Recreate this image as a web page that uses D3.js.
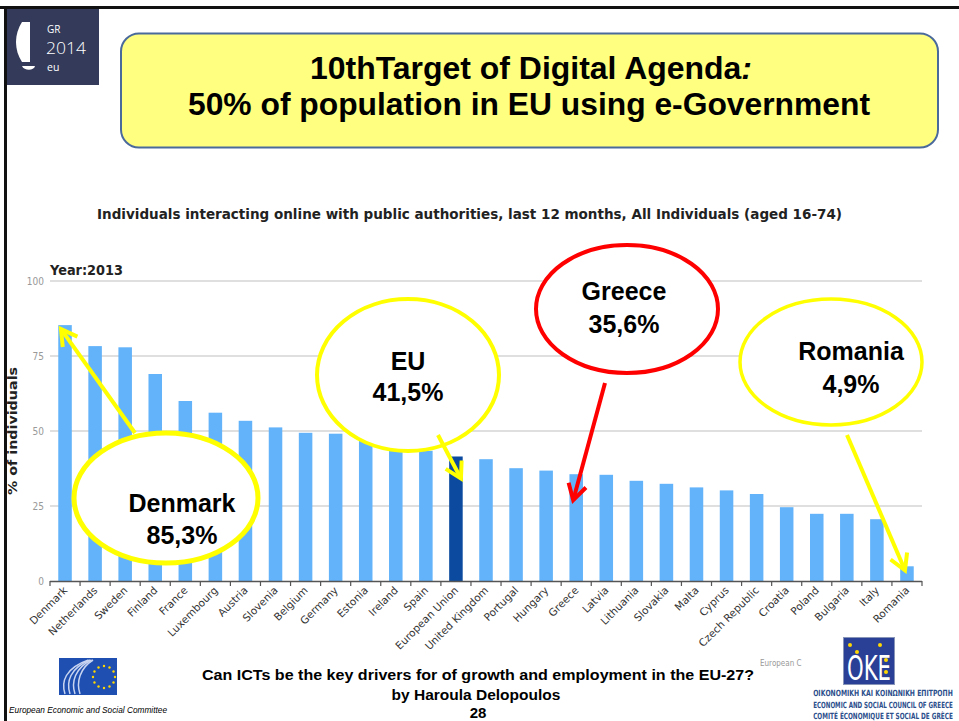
<!DOCTYPE html>
<html><head><meta charset="utf-8">
<script src="https://cdn.jsdelivr.net/npm/d3@7/dist/d3.min.js"></script>
<style>body{margin:0;background:#fff}svg{display:block}</style>
</head><body>
<svg id="c" width="959" height="721"></svg>
<script>
const countries = ["Denmark","Netherlands","Sweden","Finland","France","Luxembourg","Austria","Slovenia","Belgium","Germany","Estonia","Ireland","Spain","European Union","United Kingdom","Portugal","Hungary","Greece","Latvia","Lithuania","Slovakia","Malta","Cyprus","Czech Republic","Croatia","Poland","Bulgaria","Italy","Romania"];
const values = [85.3,78.3,77.9,69.0,60.0,56.1,53.4,51.2,49.4,49.1,47.9,45.0,43.4,41.5,40.6,37.6,36.8,35.6,35.4,33.4,32.4,31.2,30.2,29.0,24.6,22.4,22.4,20.6,4.9];
const yTicks = [0,25,50,75,100];
const highlight = "European Union";
const callouts = [
  {country:"Denmark", lines:["Denmark","85,3%"], color:"#ffff00"},
  {country:"European Union", lines:["EU","41,5%"], color:"#ffff00"},
  {country:"Greece", lines:["Greece","35,6%"], color:"#ff0000"},
  {country:"Romania", lines:["Romania","4,9%"], color:"#ffff00"}
];
const titleLines = ["10thTarget of Digital Agenda", "50% of population in EU using e-Government"];
const chartTitle = "Individuals interacting online with public authorities, last 12 months, All Individuals (aged 16-74)";
const yearLabel = "Year:2013";
const yAxisLabel = "% of individuals";
const footerLines = ["Can ICTs be the key drivers for of growth and employment  in the EU-27?","by Haroula Delopoulos","28"];
const okeLines = ["ΟΙΚΟΝΟΜΙΚΗ ΚΑΙ ΚΟΙΝΩΝΙΚΗ ΕΠΙΤΡΟΠΗ","ECONOMIC AND SOCIAL COUNCIL OF GREECE","COMITÉ ÉCONOMIQUE ET SOCIAL DE GRÈCE"];

const svg = d3.select("#c");
const data = countries.map((c,i)=>({c, v:values[i]}));

// Slide frame
svg.append("rect").attr("x",0).attr("y",0).attr("width",959).attr("height",721).attr("fill","#fff");
svg.append("line").attr("x1",0).attr("x2",959).attr("y1",7.5).attr("y2",7.5).attr("stroke","#111").attr("stroke-width",3);
svg.append("line").attr("x1",5.5).attr("x2",5.5).attr("y1",7).attr("y2",721).attr("stroke","#111").attr("stroke-width",3);

// GR2014 logo
const lg = svg.append("g");
lg.append("rect").attr("x",7).attr("y",9).attr("width",92).attr("height",76).attr("fill","#333a5a");
lg.append("path").attr("d","M22,22 C14,34 14,50 22,62 L30,62 L30,22 Z").attr("fill","#fff");
lg.append("path").attr("d","M22,66 L35,66 C34,71 24,71 22,66 Z").attr("fill","#fff");
lg.append("text").attr("x",47).attr("y",33).text("GR").attr("fill","#fff").attr("font-family","Open Sans, sans-serif").attr("font-size",10);
lg.append("text").attr("x",46).attr("y",54).text("2014").attr("fill","#fff").attr("font-family","Open Sans, sans-serif").attr("font-size",16).attr("font-weight",300).attr("textLength",40).attr("lengthAdjust","spacingAndGlyphs");
lg.append("text").attr("x",47).attr("y",71).text("eu").attr("fill","#fff").attr("font-family","Open Sans, sans-serif").attr("font-size",10.5);

// Title box
svg.append("rect").attr("x",121).attr("y",33.5).attr("width",817).attr("height",114).attr("rx",18)
  .attr("fill","#ffff80").attr("stroke","#4a6a9c").attr("stroke-width",2);
const t1 = svg.append("text").attr("x",310).attr("y",79)
  .attr("font-family","Liberation Sans, Arial, sans-serif").attr("font-weight","bold").attr("font-size",30.5)
  .attr("textLength",442).attr("lengthAdjust","spacingAndGlyphs");
t1.append("tspan").text(titleLines[0]);
t1.append("tspan").attr("font-style","italic").text(":");
svg.append("text").attr("x",529).attr("y",115).attr("text-anchor","middle")
  .attr("font-family","Liberation Sans, Arial, sans-serif").attr("font-weight","bold").attr("font-size",30.5)
  .attr("textLength",682).attr("lengthAdjust","spacingAndGlyphs")
  .text(titleLines[1]);

// Chart title
svg.append("text").attr("x",97).attr("y",219).attr("font-family","DejaVu Sans, sans-serif").attr("font-weight","bold")
  .attr("font-size",13.5).attr("fill","#222").attr("textLength",745).attr("lengthAdjust","spacingAndGlyphs").text(chartTitle);
svg.append("text").attr("x",50).attr("y",275).attr("font-family","DejaVu Sans, sans-serif").attr("font-weight","bold")
  .attr("font-size",13.5).attr("fill","#222").attr("textLength",73).attr("lengthAdjust","spacingAndGlyphs").text(yearLabel);

// Scales
const x = d3.scaleBand().domain(countries).range([50,922]).paddingInner(0.55).paddingOuter(0.275);
const y = d3.scaleLinear().domain([0,100]).range([581,281]);

// Gridlines
svg.append("g").selectAll("line").data(yTicks.filter(d=>d>0)).join("line")
  .attr("x1",50).attr("x2",922).attr("y1",d=>y(d)).attr("y2",d=>y(d)).attr("stroke","#d4d4d4").attr("stroke-width",1.5);

// Y tick labels
svg.append("g").selectAll("text").data(yTicks).join("text")
  .attr("x",44).attr("y",d=>y(d)+4).attr("text-anchor","end").attr("font-family","DejaVu Sans Condensed, DejaVu Sans, sans-serif")
  .attr("font-size",10).attr("fill","#999").text(d=>d);

// Y axis label
svg.append("text").attr("transform","translate(17,431) rotate(-90)").attr("text-anchor","middle")
  .attr("font-family","DejaVu Sans, sans-serif").attr("font-weight","bold").attr("font-size",12.5)
  .attr("fill","#222").attr("textLength",128).attr("lengthAdjust","spacingAndGlyphs").text(yAxisLabel);

// Bars
svg.append("g").selectAll("rect").data(data).join("rect")
  .attr("x",d=>x(d.c)).attr("width",x.bandwidth()).attr("y",d=>y(d.v)).attr("height",d=>y(0)-y(d.v))
  .attr("fill",d=>d.c===highlight?"#0b4a9e":"#63b3fa");

// X axis line and ticks at band edges
const edge = i => x.range()[0] + i*x.step();
svg.append("line").attr("x1",50).attr("x2",922).attr("y1",y(0)+0.5).attr("y2",y(0)+0.5).attr("stroke","#555").attr("stroke-width",1.5);
svg.append("g").selectAll("line").data(d3.range(countries.length+1)).join("line")
  .attr("x1",edge).attr("x2",edge).attr("y1",y(0)).attr("y2",y(0)+5).attr("stroke","#555").attr("stroke-width",1.2);

// X labels
svg.append("g").selectAll("text").data(countries).join("text")
  .attr("transform",d=>`translate(${x(d)+x.bandwidth()/2+3},${y(0)+10}) rotate(-45)`)
  .attr("text-anchor","end").attr("font-family","DejaVu Sans, sans-serif").attr("font-size",10.5).attr("fill","#333").text(d=>d);

// Small watermark text
svg.append("text").attr("x",760).attr("y",666).attr("font-family","DejaVu Sans Condensed, sans-serif").attr("font-size",8).attr("fill","#999").text("European C");

// Callouts: ellipse layout + arrow (arrow tip anchored to bar via scales)
const layout = {
  "Denmark":        {cx:166, cy:498, rx:92, ry:65, sw:5,   tx:182, ty:[512,544], tail:[135,433], tip:[-4,4]},
  "European Union": {cx:408, cy:375, rx:91, ry:76, sw:4,   tx:408, ty:[370,401], tail:[438,435], tip:[5,22]},
  "Greece":         {cx:627, cy:309, rx:91, ry:64, sw:4,   tx:624, ty:[300,333], tail:[605,383], tip:[-3,26]},
  "Romania":        {cx:831, cy:362, rx:91, ry:63, sw:3.5, tx:851, ty:[360,393], tail:[847,435], tip:[-2,4]}
};
const dmap = new Map(data.map(d=>[d.c,d.v]));
const ag = svg.append("g");
callouts.forEach(co=>{
  const L = layout[co.country];
  ag.append("ellipse").attr("cx",L.cx).attr("cy",L.cy).attr("rx",L.rx).attr("ry",L.ry)
    .attr("fill","#fff").attr("stroke",co.color).attr("stroke-width",L.sw);
  co.lines.forEach((s,i)=>{
    ag.append("text").attr("x",L.tx).attr("y",L.ty[i]).attr("text-anchor","middle")
      .attr("font-family","Liberation Sans, Arial, sans-serif").attr("font-weight","bold").attr("font-size",25).attr("fill","#000").text(s);
  });
});
callouts.forEach(co=>{
  const L = layout[co.country];
  const tx = x(co.country)+x.bandwidth()/2 + L.tip[0];
  const ty = y(dmap.get(co.country)) + L.tip[1];
  const [sx,sy] = L.tail;
  const ang = Math.atan2(ty-sy, tx-sx);
  const hl = 18, ha = Math.PI/6;
  const p1 = [tx - hl*Math.cos(ang-ha), ty - hl*Math.sin(ang-ha)];
  const p2 = [tx - hl*Math.cos(ang+ha), ty - hl*Math.sin(ang+ha)];
  ag.append("line").attr("x1",sx).attr("y1",sy).attr("x2",tx).attr("y2",ty).attr("stroke",co.color).attr("stroke-width",4);
  ag.append("path").attr("d",`M${p1[0]},${p1[1]} L${tx},${ty} L${p2[0]},${p2[1]}`).attr("fill","none")
    .attr("stroke",co.color).attr("stroke-width",4).attr("stroke-linejoin","miter");
});

// Footer
const ff = "Liberation Sans, Arial, sans-serif";
svg.append("text").attr("x",478).attr("y",680).attr("text-anchor","middle").attr("font-family",ff).attr("font-weight","bold").attr("font-size",15.5)
  .attr("textLength",552).attr("lengthAdjust","spacingAndGlyphs").text(footerLines[0]);
svg.append("text").attr("x",476).attr("y",700).attr("text-anchor","middle").attr("font-family",ff).attr("font-weight","bold").attr("font-size",15.5).text(footerLines[1]);
svg.append("text").attr("x",478).attr("y",718).attr("text-anchor","middle").attr("font-family",ff).attr("font-weight","bold").attr("font-size",15).text(footerLines[2]);

// EESC logo
const eg = svg.append("g");
eg.append("rect").attr("x",59).attr("y",658).attr("width",58).attr("height",37).attr("fill","#1f4fb0");
[0,5,10,15].forEach(o=>{
  eg.append("path").attr("d",`M${93-o*0.3},${660} C${80-o},${668} ${76-o},${682} ${80-o},${694}`).attr("fill","none").attr("stroke","#c8d4f0").attr("stroke-width",1.5);
});
d3.range(12).forEach(i=>{
  const a = i*Math.PI/6;
  eg.append("circle").attr("cx",104+11*Math.cos(a)).attr("cy",677+11*Math.sin(a)).attr("r",1.2).attr("fill","#ffd700");
});
svg.append("text").attr("x",9).attr("y",713).attr("font-family",ff).attr("font-style","italic").attr("font-size",8.5)
  .attr("textLength",158).attr("lengthAdjust","spacingAndGlyphs").text("European Economic and Social Committee");

// OKE logo
const og = svg.append("g");
og.append("rect").attr("x",843.5).attr("y",637.5).attr("width",51).attr("height",47).attr("fill","#2a3f96").attr("stroke","#8894b8").attr("stroke-width",1);
og.append("text").attr("x",869).attr("y",680).attr("text-anchor","middle").attr("font-family","DejaVu Sans Condensed, sans-serif")
  .attr("font-size",34).attr("fill","#fff").attr("textLength",44).attr("lengthAdjust","spacingAndGlyphs").text("ΟΚΕ");
[[850,645],[857,652],[880,645],[886,660],[886,672]].forEach(p=>og.append("circle").attr("cx",p[0]).attr("cy",p[1]).attr("r",2).attr("fill","#ffd700"));
okeLines.forEach((s,i)=>{
  const base = 8.5, by = 696+i*11.5;
  const t = svg.append("text").attr("x",0).attr("y",0).attr("text-anchor","middle").attr("font-family","DejaVu Sans Condensed, sans-serif")
    .attr("font-weight","bold").attr("font-size",base).attr("fill","#2c4f8c").text(s);
  const w = t.node().getComputedTextLength();
  const fs = base*140/w;
  t.attr("font-size",fs).attr("transform",`translate(883,${by}) scale(1,${(base/fs).toFixed(3)})`);
});
</script>
</body></html>
